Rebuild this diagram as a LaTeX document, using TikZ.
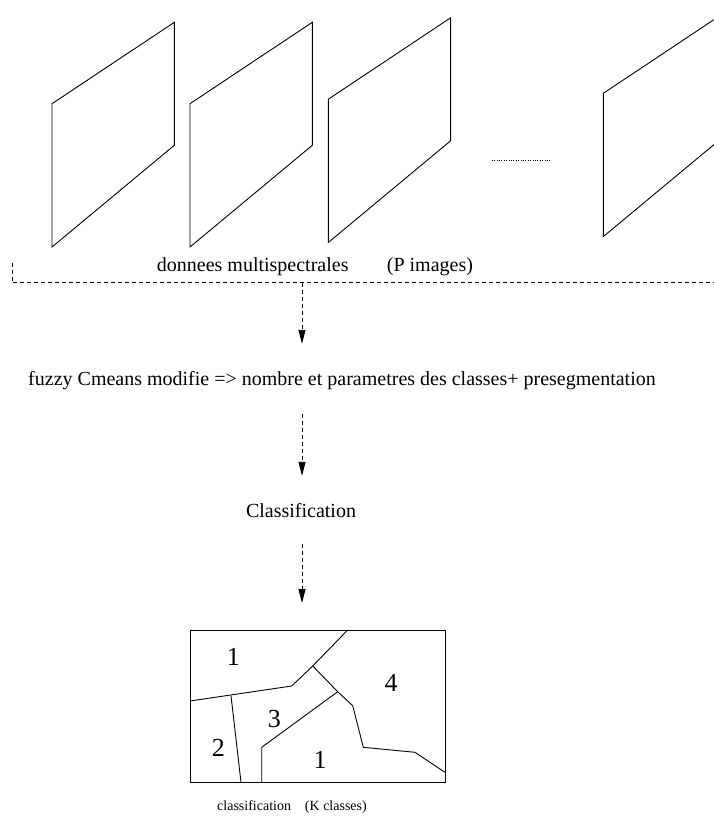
\documentclass[tikz,border=0pt]{standalone}
\usepackage{fontspec}
\setmainfont{Liberation Serif}
\usetikzlibrary{arrows.meta}

\tikzset{
  plane/.style={black, line width=0.9pt},
  border/.style={black, line width=0.9pt},
  flow/.style={line width=0.9pt, dash pattern=on 4pt off 3pt, -{Triangle[length=14pt,width=7pt]}, shorten >=27pt},
  lbl/.style={font=\fontsize{20}{24}\selectfont, inner sep=0pt, text height=14pt, text depth=4.5pt},
  caption/.style={font=\fontsize{14}{17}\selectfont, inner sep=0pt},
  region/.style={font=\fontsize{26}{30}\selectfont, inner sep=0pt},
}

\begin{document}
\begin{tikzpicture}[x=1pt, y=-1pt]
        \clip (0,0) rectangle (714,816);

        % multispectral planes
        \foreach \dx/\dy in {0/0, 138/0, 276.3/-4.5, 551.3/-10.4} {
            \draw[plane] (52+\dx,103.7+\dy) -- (174.3+\dx,22.3+\dy) -- (174.3+\dx,145.3+\dy) -- (52+\dx,247+\dy) -- cycle;
        }

        % dots between planes
        \draw[line width=0.8pt, dash pattern=on 0.8pt off 1.6pt] (491.7,160) -- (551,160);

        \node[lbl, anchor=base west] (donnees) at (156.7,271) {donnees multispectrales};
        \node[lbl, anchor=base west] (pimages) at (386.7,271) {(P images)};

        % collecting line
        \coordinate (split) at (302,282.5);
        \draw[line width=0.9pt, dash pattern=on 4pt off 3pt] (12,262.5) -- (12,282.5) -- (split) -- (720,282.5);

        % steps
        \node[lbl, anchor=base] (fuzzy) at (342,385) {fuzzy Cmeans modifie => nombre et parametres des classes+ presegmentation};
        \node[lbl, anchor=base] (classif) at (301,517) {Classification};

        % result map
        \node[border, draw, minimum width=255pt, minimum height=152.3pt, inner sep=0pt, anchor=north west] (carte) at (190,630) {};

        \draw[flow] (split) -- (split |- fuzzy.north);
        \draw[flow, shorten <=24pt] (split |- fuzzy.south) -- (split |- classif.north);
        \draw[flow, shorten <=22pt] (split |- classif.south) -- (split |- carte.north);

        % region boundaries
        \draw[border] (190,701) -- (291.7,686) -- (312.7,666) -- (347.7,630);
        \draw[border] (312.7,666) -- (337.7,691.7) -- (352.7,705.7) -- (363.3,747.3) -- (415,752.3) -- (445,772.3);
        \draw[border] (337.7,691.7) -- (261.7,747.3) -- (261.7,782.3);
        \draw[border] (231,695.7) -- (241,782.3);

        % class labels
        \node[region] (r1) at (233.3,656.7) {1};
        \node[region] (r4) at (391,683.3) {4};
        \node[region] (r3) at (274.3,719.3) {3};
        \node[region] (r2) at (218.3,748.3) {2};
        \node[region] (r5) at (320,760) {1};

        \node[caption, anchor=base west] (capL) at (217,810) {classification};
        \node[caption, anchor=base east] (capR) at (367,810) {(K classes)};

\end{tikzpicture}
\end{document}
